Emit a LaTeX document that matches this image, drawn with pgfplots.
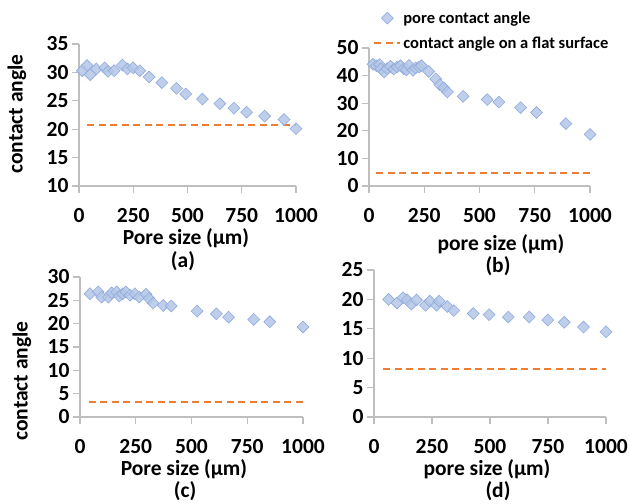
\documentclass[border=0pt]{standalone}
\usepackage{fontspec}
\setmainfont{Carlito}
\usepackage{pgfplots}
\pgfplotsset{compat=1.18}

\definecolor{ptfill}{RGB}{180,199,231}
\definecolor{ptdraw}{RGB}{143,170,220}
\definecolor{flat}{RGB}{237,125,49}
\definecolor{axgray}{RGB}{191,191,191}

\newcommand{\lbl}{\fontsize{21.5}{23}\selectfont\bfseries}

\pgfplotsset{
  panel/.style={
    scale only axis, anchor=south west,
    xmin=0, xmax=1000, xtick={0,250,...,1000},
    axis x line=bottom, axis y line=left,
    axis line style={axgray, line width=1.2pt, -},
    tick style={axgray, line width=1.2pt},
    tick align=outside, major tick length=7pt,
    /pgf/number format/assume math mode=true,
    /pgf/number format/1000 sep={},
    ticklabel style={font=\lbl},
    xticklabel style={yshift=-12pt},
    clip=false,
  },
  pts/.style={only marks, mark=square*, mark size=4.2pt,
    mark options={rotate=45, fill=ptfill, draw=ptdraw, line width=0.6pt, fill opacity=0.85}},
  flatline/.style={flat, line width=2.2pt, dash pattern=on 7pt off 4.5pt, no marks},
  ptlegend/.style={legend image code/.code={\draw[##1] plot coordinates {(13pt,0pt)};}},
  linelegend/.style={legend image code/.code={\draw[##1] (0pt,0pt) -- (26pt,0pt);}},
}

\begin{document}
\begin{tikzpicture}[x=1pt,y=1pt]
\useasboundingbox (0,0) rectangle (630,504);

% (a)
\begin{axis}[panel, at={(79pt,318pt)}, width=217pt, height=142pt,
  ymin=10, ymax=35, ytick={10,15,...,35}]
\addplot[pts] coordinates {
  (15,30.3) (37,31.2) (52,29.6) (80,30.6) (118,30.8) (134,30.2) (162,30.3)
  (200,31.3) (223,30.6) (249,30.8) (280,30.3) (323,29.2) (382,28.2) (449,27.2)
  (492,26.2) (569,25.3) (649,24.5) (714,23.7) (772,23.0) (855,22.3) (945,21.7) (1000,20.1)
};
\addplot[flatline] coordinates {(37,20.7) (1000,20.7)};
\end{axis}

% (b)
\begin{axis}[panel, at={(369pt,318pt)}, width=221pt, height=138pt,
  ymin=0, ymax=50, ytick={0,10,...,50},
  legend style={at={(axis description cs:0.018,1.28)}, anchor=north west,
    draw=none, fill=none, font=\fontsize{16.5}{17}\selectfont\bfseries,
    legend cell align=left, inner sep=0pt, row sep=8pt, nodes={inner sep=2pt}}]
\addplot[pts, ptlegend] coordinates {
  (18,44.1) (33,43.6) (48,44.0) (54,42.5) (69,41.3) (82,42.5) (97,43.4) (112,42.4)
  (127,43.1) (142,43.6) (157,42.5) (169,42.1) (181,43.7) (199,41.9) (211,42.8)
  (227,43.1) (237,43.6) (270,41.5) (302,38.8) (320,36.7) (338,35.6) (355,34.1)
  (426,32.5) (535,31.3) (588,30.4) (686,28.4) (758,26.6) (891,22.6) (1000,18.7)
};
\addlegendentry{pore contact angle}
\addplot[flatline, linelegend] coordinates {(33,4.8) (1000,4.8)};
\addlegendentry{contact angle on a flat surface}
\end{axis}

% (c)
\begin{axis}[panel, at={(80pt,87pt)}, width=223pt, height=140pt,
  ymin=0, ymax=30, ytick={0,5,...,30}]
\addplot[pts] coordinates {
  (45,26.4) (82,26.8) (97,25.7) (127,25.7) (142,26.6) (164,26.8) (176,25.9)
  (191,26.4) (206,26.8) (224,26.1) (246,26.4) (266,25.7) (296,26.3) (309,25.4)
  (328,24.4) (373,23.9) (409,23.8) (525,22.7) (612,22.1) (666,21.4) (779,20.9)
  (851,20.4) (1000,19.3)
};
\addplot[flatline] coordinates {(40,3.2) (1000,3.2)};
\end{axis}

% (d)
\begin{axis}[panel, at={(374pt,87pt)}, width=232pt, height=147pt,
  ymin=0, ymax=25, ytick={0,5,...,25}]
\addplot[pts] coordinates {
  (63,20.0) (99,19.4) (125,20.3) (143,19.9) (161,19.2) (183,19.9) (222,19.0)
  (241,19.7) (269,19.0) (281,19.7) (316,18.8) (344,18.1) (428,17.6) (496,17.4)
  (579,17.0) (669,17.0) (749,16.5) (820,16.1) (903,15.3) (1000,14.5)
};
\addplot[flatline] coordinates {(39,8.2) (1000,8.2)};
\end{axis}

% labels
\node[rotate=90, font=\lbl] at (17,390) {contact angle};
\node[rotate=90, font=\lbl] at (22,123) {contact angle};
\node[font=\lbl] at (186,266) {Pore size (μm)};
\node[font=\lbl] at (183,243) {(a)};
\node[font=\lbl] at (501,260) {pore size (μm)};
\node[font=\lbl] at (498,238) {(b)};
\node[font=\lbl] at (184,35) {Pore size (μm)};
\node[font=\lbl, inner sep=0pt] at (185,13) {(c)};
\node[font=\lbl] at (487,35) {pore size (μm)};
\node[font=\lbl, inner sep=0pt] at (498,13) {(d)};
\end{tikzpicture}
\end{document}
